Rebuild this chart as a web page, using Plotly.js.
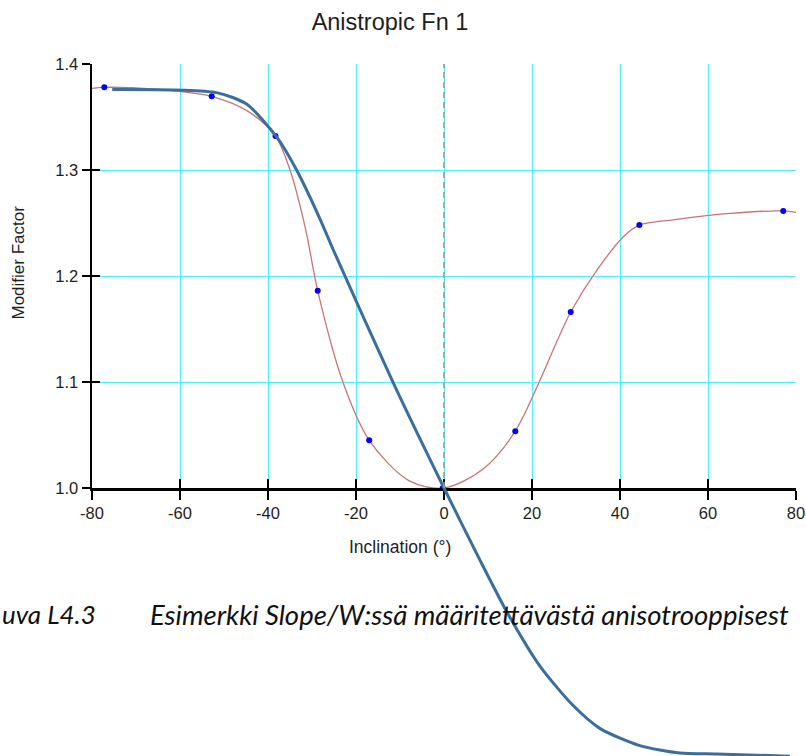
<!DOCTYPE html>
<html>
<head>
<meta charset="utf-8">
<script src="https://cdn.plot.ly/plotly-3.0.1.min.js"></script>
<style>html,body{margin:0;padding:0;background:#fff;}#chart{width:806px;height:756px;}</style>
</head>
<body>
<div id="chart"></div>
<script>
// ---- data ----
const chartTitle = "Anistropic Fn 1";
const xAxisTitle = "Inclination (°)";
const yAxisTitle = "Modifier Factor";
const captionLabel = "uva L4.3";
const captionText = "Esimerkki Slope/W:ssä määritettävästä anisotrooppisest";

// fitted (red) curve
const curveX = [-80, -77.2, -65, -56.2, -52.8, -44.8, -38.3, -35, -31.5, -28.7, -22.9, -17.0, -8.0, 0, 8.9, 16.2, 28.8, 35.0, 41.0, 44.4, 52.1, 65, 77.1, 80];
const curveY = [1.377, 1.378, 1.376, 1.372, 1.3695, 1.356, 1.332, 1.300, 1.245, 1.186, 1.099, 1.045, 1.007, 1.000, 1.018, 1.0536, 1.166, 1.207, 1.238, 1.248, 1.253, 1.259, 1.2614, 1.260];

// data points (blue markers)
const pointX = [-77.2, -52.8, -38.3, -28.7, -17.0, -0.3, 16.2, 28.8, 44.4, 77.1];
const pointY = [1.378, 1.3695, 1.332, 1.186, 1.045, 1.000, 1.0536, 1.166, 1.248, 1.2614];

// overlaid thick blue line (runs below the plot)
const overlayX = [-75.4, -51.7, -44.8, -38.0, -33.5, -28.2, -25.2, -11.5, 0, 7.8, 14.3, 21.8, 29.3, 35.5, 44.5, 53.6, 62.0, 78.6];
const overlayY = [1.376, 1.373, 1.362, 1.331, 1.300, 1.254, 1.225, 1.099, 1.000, 0.935, 0.883, 0.832, 0.795, 0.773, 0.757, 0.750, 0.749, 0.747];

// ticks
const xTickVals = [-80, -60, -40, -20, 0, 20, 40, 60, 80];
const xTickText = ["-80", "-60", "-40", "-20", "0", "20", "40", "60", "80"];
const yTickVals = [1.0, 1.1, 1.2, 1.3, 1.4];
const yTickText = ["1.0", "1.1", "1.2", "1.3", "1.4"];
const refLineX = 0;

// ---- geometry ----
const W = 806, H = 756;
const mL = 92, mR = 10, mT = 64, mB = 0;
const plotW = W - mL - mR, plotH = H - mT - mB;
const mainBottomPx = 488;           // pixel row of y = 1.0
const yMainDomain0 = (H - mainBottomPx) / plotH;
const pxPerUnitY = (mainBottomPx - mT) / (yTickVals[yTickVals.length-1] - yTickVals[0]);
const y2Min = yTickVals[yTickVals.length-1] - plotH / pxPerUnitY;
const px2paperX = px => (px - mL) / plotW;
const py2paperY = py => (H - mB - py) / plotH;

const axisFont = {family: "Liberation Sans, Arial, sans-serif", size: 16.5, color: "#1e1e1e"};
const gridCol = "#4ff2f2";

const traces = [
  {x: curveX, y: curveY, type: "scatter", mode: "lines", xaxis: "x", yaxis: "y",
   line: {color: "#c97474", width: 1.3, shape: "spline", smoothing: 0.9}, hoverinfo: "skip"},
  {x: pointX, y: pointY, type: "scatter", mode: "markers", xaxis: "x", yaxis: "y",
   marker: {color: "#0000ff", size: 6}, hoverinfo: "skip"},
  {x: [], y: [], type: "scatter", mode: "lines", xaxis: "x3", yaxis: "y3", hoverinfo: "skip"},
  {x: overlayX, y: overlayY, type: "scatter", mode: "lines", xaxis: "x2", yaxis: "y2",
   line: {color: "#3a6e9c", width: 3, shape: "spline", smoothing: 0.7}, hoverinfo: "skip"}
];

const commonX = {range: [xTickVals[0], xTickVals[xTickVals.length-1]], tickmode: "array", tickvals: xTickVals, ticktext: xTickText, automargin: false, fixedrange: true};
const commonY = {range: [yTickVals[0], yTickVals[yTickVals.length-1]], tickmode: "array", tickvals: yTickVals, ticktext: yTickText, automargin: false, fixedrange: true};

const layout = {
  width: W, height: H,
  margin: {l: mL, r: mR, t: mT, b: mB, pad: 0},
  paper_bgcolor: "#ffffff",
  plot_bgcolor: "rgba(0,0,0,0)",
  showlegend: false,
  title: {text: chartTitle, font: {family: "Liberation Sans, Arial, sans-serif", size: 23.5, color: "#1e1e1e"},
          x: 390 / W, xref: "container", xanchor: "center", y: 1 - 22 / H, yref: "container", yanchor: "middle"},
  xaxis: Object.assign({}, commonX, {domain: [0, 1], anchor: "y",
    showgrid: true, gridcolor: gridCol, gridwidth: 1, zeroline: false,
    showline: true, linecolor: "#000", linewidth: 2.5,
    ticks: "outside", ticklen: 9, tickwidth: 2.5, tickcolor: "#000",
    tickfont: axisFont}),
  yaxis: Object.assign({}, commonY, {domain: [yMainDomain0, 1], anchor: "x",
    showgrid: true, gridcolor: gridCol, gridwidth: 1, zeroline: false,
    showline: true, linecolor: "#000", linewidth: 2.5,
    ticks: "outside", ticklen: 8, tickwidth: 2.5, tickcolor: "#000",
    tickfont: axisFont}),
  xaxis3: Object.assign({}, commonX, {overlaying: "x", anchor: "y3", side: "bottom",
    showgrid: false, zeroline: false, showline: false, showticklabels: false,
    ticks: "inside", ticklen: 9, tickwidth: 2.5, tickcolor: "#000"}),
  yaxis3: Object.assign({}, commonY, {overlaying: "y", anchor: "x3", side: "left",
    showgrid: false, zeroline: false, showline: false, showticklabels: false,
    ticks: "inside", ticklen: 8, tickwidth: 2.5, tickcolor: "#000"}),
  xaxis2: Object.assign({}, commonX, {domain: [0, 1], anchor: "y2", visible: false}),
  yaxis2: {domain: [0, 1], anchor: "x2", range: [y2Min, yTickVals[yTickVals.length-1]], visible: false, fixedrange: true},
  shapes: [
    {type: "line", xref: "x", yref: "y domain", x0: refLineX, x1: refLineX, y0: 0, y1: 1,
     line: {color: "#9a9a9a", width: 1.6, dash: "6px,4px"}}
  ],
  annotations: [
    {text: xAxisTitle, xref: "paper", yref: "paper", x: px2paperX(399.5), y: py2paperY(547),
     xanchor: "center", yanchor: "middle", showarrow: false,
     font: {family: "Liberation Sans, Arial, sans-serif", size: 17.5, color: "#1e1e1e"}},
    {text: yAxisTitle, xref: "paper", yref: "paper", x: px2paperX(18), y: py2paperY(262.5),
     xanchor: "center", yanchor: "middle", textangle: -90, showarrow: false,
     font: {family: "Liberation Sans, Arial, sans-serif", size: 17, color: "#1e1e1e"}},
    {text: captionLabel, xref: "paper", yref: "paper", x: px2paperX(0), y: py2paperY(614),
     xanchor: "left", yanchor: "middle", showarrow: false,
     font: {family: "Lato, sans-serif", size: 26, color: "#111", style: "italic", weight: 400}},
    {text: captionText, xref: "paper", yref: "paper", x: px2paperX(148), y: py2paperY(614),
     xanchor: "left", yanchor: "middle", showarrow: false,
     font: {family: "Lato, sans-serif", size: 27.5, color: "#111", style: "italic", weight: 400}}
  ]
};

Plotly.newPlot("chart", traces, layout, {staticPlot: true, displayModeBar: false});
</script>
</body>
</html>
